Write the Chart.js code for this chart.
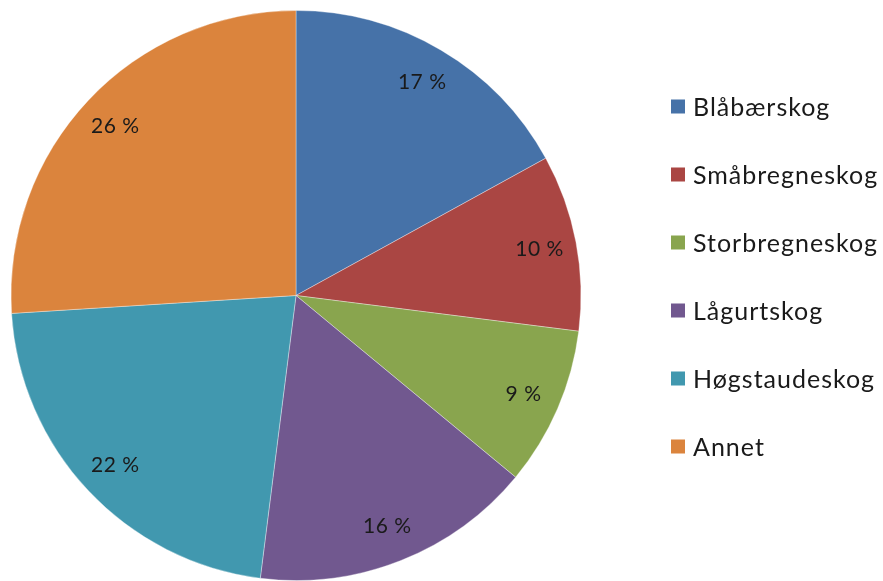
<!DOCTYPE html>
<html>
<head>
<meta charset="utf-8">
<script src="https://cdn.jsdelivr.net/npm/chart.js@4.4.1/dist/chart.umd.min.js"></script>
<style>
  html, body { margin: 0; padding: 0; background: #ffffff; overflow: hidden; }
  canvas { display: block; }
</style>
</head>
<body>
<canvas id="chart" width="883" height="581"></canvas>
<script>
// Forest vegetation types and their share (percent)
const categories = ['Blåbærskog', 'Småbregneskog', 'Storbregneskog', 'Lågurtskog', 'Høgstaudeskog', 'Annet'];
const shares = [17, 10, 9, 16, 22, 26];
const sliceColors = ['#4672A8', '#AA4643', '#89A54E', '#71588F', '#4198AF', '#DB843D'];

const labelFont = '21px Lato, "Open Sans", sans-serif';
const legendFont = '25px Lato, "Open Sans", sans-serif';

// Percentage labels placed inside each slice, near the rim
const sliceLabels = {
  id: 'sliceLabels',
  afterDatasetsDraw(chart) {
    const ctx = chart.ctx;
    const meta = chart.getDatasetMeta(0);
    const total = shares.reduce((a, b) => a + b, 0);
    ctx.save();
    ctx.font = labelFont;
    ctx.letterSpacing = '0.5px';
    ctx.fillStyle = '#1a1a1a';
    ctx.textAlign = 'center';
    ctx.textBaseline = 'middle';
    meta.data.forEach((arc, i) => {
      const p = arc.getProps(['x', 'y', 'startAngle', 'endAngle', 'outerRadius'], true);
      const mid = (p.startAngle + p.endAngle) / 2;
      const r = p.outerRadius * 0.87;
      const pct = Math.round(shares[i] / total * 100);
      ctx.fillText(pct + ' %', p.x + Math.cos(mid) * r, p.y + Math.sin(mid) * r);
    });
    ctx.restore();
  }
};

// Legend column on the right
const sideLegend = {
  id: 'sideLegend',
  afterDraw(chart) {
    const ctx = chart.ctx;
    const boxX = 671, box = 14, textX = 693, firstY = 106.5, step = 68;
    ctx.save();
    ctx.font = legendFont;
    ctx.letterSpacing = '1px';
    ctx.textAlign = 'left';
    ctx.textBaseline = 'middle';
    categories.forEach((name, i) => {
      const y = firstY + i * step;
      ctx.fillStyle = sliceColors[i];
      ctx.fillRect(boxX, y - box / 2, box, box);
      ctx.fillStyle = '#1a1a1a';
      ctx.fillText(name, textX, y + 1);
    });
    ctx.restore();
  }
};

new Chart(document.getElementById('chart'), {
  type: 'pie',
  data: {
    labels: categories,
    datasets: [{
      data: shares,
      backgroundColor: sliceColors,
      borderColor: 'rgba(255,255,255,0.35)',
      borderWidth: 1
    }]
  },
  options: {
    responsive: false,
    animation: false,
    layout: { padding: { left: 10, top: 10, right: 301, bottom: 0 } },
    plugins: {
      legend: { display: false },
      tooltip: { enabled: false }
    }
  },
  plugins: [sliceLabels, sideLegend]
});
</script>
</body>
</html>
